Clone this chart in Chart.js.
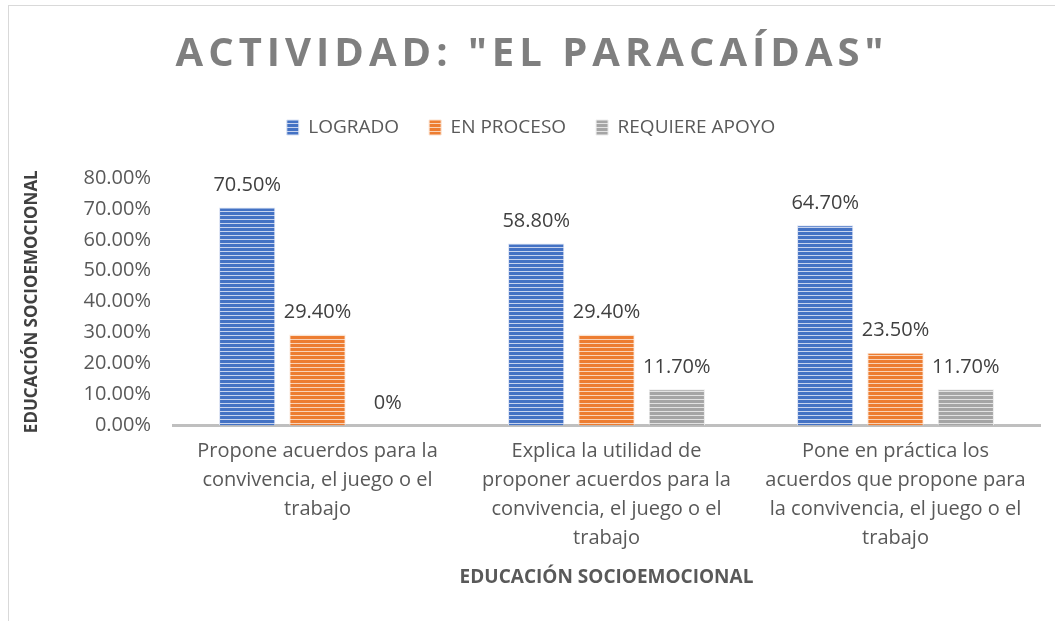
<!DOCTYPE html>
<html>
<head>
<meta charset="utf-8">
<script src="https://cdn.jsdelivr.net/npm/chart.js@4"></script>
<style>
  html, body { margin: 0; padding: 0; background: #fff; }
  #wrap { position: relative; width: 1055px; height: 621px; }
  #wrap:before { content: ""; position: absolute; left: 8px; top: 5px; right: 0; bottom: 0;
    border-left: 1px solid #d9d9d9; border-top: 1px solid #d9d9d9; pointer-events: none; }
</style>
</head>
<body>
<div id="wrap"><canvas id="chart" width="1055" height="621"></canvas></div>
<script>
const chartTitle = 'ACTIVIDAD: "EL PARACAÍDAS"';
const axisTitle = "EDUCACIÓN SOCIOEMOCIONAL";

const categories = [
  ["Propone acuerdos para la", "convivencia, el juego o el", "trabajo"],
  ["Explica la utilidad de", "proponer acuerdos para la", "convivencia, el juego o el", "trabajo"],
  ["Pone en práctica los", "acuerdos que propone para", "la convivencia, el juego o el", "trabajo"],
];

const logrado = [70.5, 58.8, 64.7];
const enProceso = [29.4, 29.4, 23.5];
const requiereApoyo = [0, 11.7, 11.7];

const logradoLabels = ["70.50%", "58.80%", "64.70%"];
const enProcesoLabels = ["29.40%", "29.40%", "23.50%"];
const requiereApoyoLabels = ["0%", "11.70%", "11.70%"];

const FONT = "'Open Sans', 'DejaVu Sans', sans-serif";

// franjas horizontales como en el original
function stripes(color, light) {
  const c = document.createElement("canvas");
  c.width = 4;
  c.height = 4;
  const g = c.getContext("2d");
  g.fillStyle = light;
  g.fillRect(0, 0, 4, 4);
  g.fillStyle = color;
  g.fillRect(0, 0, 4, 3);
  return g.createPattern(c, "repeat");
}

const canvas = document.getElementById("chart");
const ctx = canvas.getContext("2d");

const titlePlugin = {
  id: "bigTitle",
  afterDraw(chart) {
    const c = chart.ctx;
    c.save();
    c.font = "bold 40px " + FONT;
    c.fillStyle = "#7f7f7f";
    c.textAlign = "center";
    c.textBaseline = "middle";
    c.letterSpacing = "5px";
    c.fillText(chartTitle, 532, 55);
    c.restore();
  },
};

const valueLabels = {
  id: "valueLabels",
  afterDatasetsDraw(chart) {
    const c = chart.ctx;
    c.save();
    c.font = "20px " + FONT;
    c.fillStyle = "#404040";
    c.textAlign = "center";
    c.textBaseline = "bottom";
    chart.data.datasets.forEach((ds, i) => {
      chart.getDatasetMeta(i).data.forEach((bar, j) => {
        c.fillText(ds.valueLabels[j], bar.x, bar.y - 12);
      });
    });
    c.restore();
  },
};

const legendSpace = {
  id: "legendSpace",
  beforeInit(chart) {
    const orig = chart.legend.fit;
    chart.legend.fit = function () {
      orig.bind(chart.legend)();
      this.height += 31;
    };
  },
};

new Chart(ctx, {
  type: "bar",
  data: {
    labels: categories,
    datasets: [
      {
        label: "LOGRADO",
        data: logrado,
        valueLabels: logradoLabels,
        backgroundColor: stripes("#4472c4", "#c7d3ee"),
        borderColor: "#dbe3f4",
        borderWidth: 1,
      },
      {
        label: "EN PROCESO",
        data: enProceso,
        valueLabels: enProcesoLabels,
        backgroundColor: stripes("#ed7d31", "#f9d3b8"),
        borderColor: "#fbe2d0",
        borderWidth: 1,
      },
      {
        label: "REQUIERE APOYO",
        data: requiereApoyo,
        valueLabels: requiereApoyoLabels,
        backgroundColor: stripes("#a5a5a5", "#e2e2e2"),
        borderColor: "#ececec",
        borderWidth: 1,
      },
    ],
  },
  plugins: [titlePlugin, valueLabels, legendSpace],
  options: {
    responsive: false,
    animation: false,
    layout: { padding: { top: 88, left: 22, right: 15, bottom: 28 } },
    datasets: {
      bar: { categoryPercentage: 0.73, barPercentage: 0.8 },
    },
    plugins: {
      title: { display: false },
      tooltip: { enabled: false },
      legend: {
        position: "top",
        labels: {
          font: { family: FONT, size: 19 },
          color: "#595959",
          boxWidth: 12,
          boxHeight: 15,
          padding: 30,
        },
      },
    },
    scales: {
      x: {
        grid: { display: false, drawTicks: false },
        border: { display: true, color: "#bfbfbf", width: 3 },
        ticks: {
          font: { family: FONT, size: 20, lineHeight: 1.46 },
          color: "#595959",
          padding: 11,
          maxRotation: 0,
          autoSkip: false,
        },
        title: {
          display: true,
          text: axisTitle,
          font: { family: FONT, size: 19, weight: "bold" },
          color: "#595959",
          padding: { top: 2 },
        },
      },
      y: {
        min: 0,
        max: 80,
        grid: { display: false, drawTicks: false },
        border: { display: false },
        ticks: {
          stepSize: 10,
          font: { family: FONT, size: 20 },
          color: "#595959",
          padding: 22,
          callback: (v) => v.toFixed(2) + "%",
        },
        title: {
          display: true,
          text: axisTitle,
          font: { family: FONT, size: 17, weight: "bold" },
          color: "#404040",
          padding: 0,
        },
        afterFit(scale) {
          scale.width = 151;
        },
      },
    },
  },
});
</script>
</body>
</html>
